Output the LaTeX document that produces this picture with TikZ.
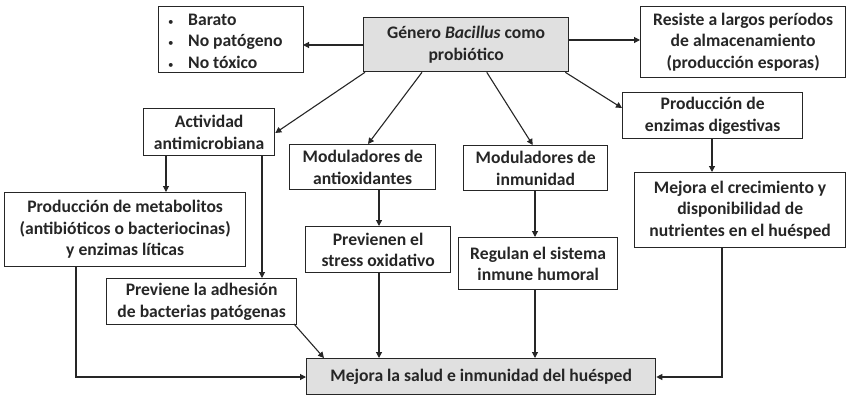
\documentclass[tikz,border=0pt]{standalone}
\usepackage{fontspec}
\setmainfont{Carlito}
\usetikzlibrary{arrows.meta,calc}
\tikzset{
  txt/.style={font=\fontsize{17.6}{21.5}\selectfont\bfseries, text=black!85},
  box/.style={txt, draw=black!85, line width=1.3pt, fill=white, inner sep=0pt, align=center},
  graybox/.style={box, fill=black!12},
  conn/.style={draw=black!85, line width=1.1pt, -{Triangle[length=6pt,width=6pt]}},
}
\newcommand{\bx}[6][box]{%
  \node[#1, minimum width=#4-#2, minimum height=#5-#3, anchor=north west] (#6) at (#2,#3)}
\newcommand{\bul}{\makebox[20pt][l]{\normalfont\fontsize{11}{11}\selectfont •}}
\begin{document}
\begin{tikzpicture}[x=1pt,y=-1pt]
\useasboundingbox (0,0) rectangle (862,410);
\bx[graybox]{363}{17}{568}{71}{gen} {Género \textit{Bacillus} como\\probiótico};
\bx{158}{6}{303}{72}{bul} {};
\node[txt, align=left, anchor=west, inner sep=0pt] (bultxt) at (168,41)
  {\bul Barato\\\bul No patógeno\\\bul No tóxico};
\bx{640}{6}{845}{77}{res} {Resiste a largos períodos\\de almacenamiento\\(producción esporas)};
\bx{622}{92}{802}{138}{enz} {Producción de\\enzimas digestivas};
\bx{463}{145}{607}{190}{inm} {Moduladores de\\inmunidad};
\bx{634}{172}{845}{247}{cre} {Mejora el crecimiento y\\disponibilidad de\\nutrientes en el huésped};
\bx{143}{108}{274}{155}{act} {Actividad\\antimicrobiana};
\bx{289}{144}{435}{189}{aox} {Moduladores de\\antioxidantes};
\bx{4}{192}{245}{266}{met} {Producción de metabolitos\\(antibióticos o bacteriocinas)\\y enzimas líticas};
\bx{106}{278}{296}{324}{adh} {Previene la adhesión\\de bacterias patógenas};
\bx{305}{226}{450}{272}{str} {Previenen el\\stress oxidativo};
\bx{458}{237}{617}{289}{reg} {Regulan el sistema\\inmune humoral};
\bx[graybox]{306}{358}{655}{394}{sal} {Mejora la salud e inmunidad del huésped};

\coordinate (g1) at (363,45); \coordinate (b1) at (303,45);
\draw[conn] (g1) -- (b1);
\draw[conn] (gen.east |- 0,40) -- (res.west |- 0,40);
\draw[conn] (gen.south east) ++(-4,0) -- (enz.west |- 0,108);
\draw[conn] ($(gen.south west)!0.60!(gen.south east)$) -- ($(inm.north west)!0.48!(inm.north east)$);
\draw[conn] (gen.south west) ++(2,0) -- (act.east |- 0,133);
\draw[conn] (gen.south west) ++(59,0) -- (368,144);
\draw[conn] (712,138) -- (712,172);
\draw[conn] (166,155) -- (166,192);
\draw[conn] (262,155) -- (262,278);
\draw[conn] (379,189) -- (379,226);
\draw[conn] (535,190) -- (535,237);
\draw[conn] (76,266) |- (sal.west |- 0,377);
\draw[conn] (294,324) -- (324,358);
\draw[conn] (379,272) -- (379,358);
\draw[conn] (535,289) -- (535,358);
\draw[conn] (722,247) |- (sal.east |- 0,377);
\end{tikzpicture}
\end{document}
